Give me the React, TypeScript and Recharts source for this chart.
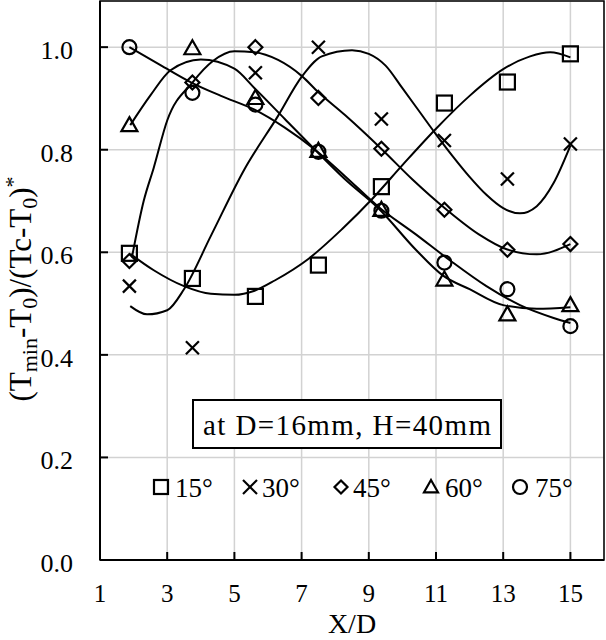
import React from "react";
import { ComposedChart, XAxis, YAxis, CartesianGrid, Scatter, Line, ReferenceArea } from "recharts";

// measured X/D stations
const xd = [1.875, 3.75, 5.625, 7.5, 9.375, 11.25, 13.125, 15];

// measured values per inclination angle
const deg15 = [0.598, 0.549, 0.514, 0.575, 0.728, 0.891, 0.932, 0.987];
const deg30 = [0.534, 0.414, 0.95, 1.0, 0.86, 0.818, 0.743, 0.811];
const deg45 = [0.583, 0.931, 1.0, 0.901, 0.802, 0.683, 0.605, 0.616];
const deg60 = [0.848, 0.998, 0.901, 0.798, 0.683, 0.547, 0.479, 0.497];
const deg75 = [1.0, 0.911, 0.888, 0.796, 0.681, 0.58, 0.528, 0.456];

// trend lines
const fit15X = [1.9, 2.6, 3.5, 4.3, 5.0, 5.6, 6.2, 7.2, 8.2, 9.1, 10.0, 11.0, 12.0, 13.0, 13.8, 14.4, 15.0];
const fit15Y = [0.597, 0.565, 0.534, 0.519, 0.517, 0.525, 0.545, 0.587, 0.645, 0.704, 0.77, 0.841, 0.905, 0.957, 0.982, 0.99, 0.98];
const fit30X = [1.9, 2.4, 3.0, 3.5, 4.3, 5.3, 6.3, 7.0, 7.6, 8.5, 9.0, 9.5, 10.0, 10.5, 11.0, 11.5, 12.0, 12.5, 13.0, 13.5, 14.0, 14.5, 15.0];
const fit30Y = [0.495, 0.479, 0.487, 0.528, 0.632, 0.762, 0.866, 0.942, 0.982, 0.994, 0.987, 0.964, 0.92, 0.875, 0.83, 0.787, 0.747, 0.712, 0.686, 0.676, 0.69, 0.735, 0.808];
const fit45X = [1.95, 2.3, 2.6, 3.0, 3.75, 4.36, 5.0, 5.6, 6.3, 7.0, 7.5, 8.3, 9.4, 10.3, 11.3, 12.3, 13.1, 14.0, 15.0];
const fit45Y = [0.59, 0.7, 0.765, 0.857, 0.931, 0.973, 0.992, 0.99, 0.975, 0.944, 0.912, 0.867, 0.8, 0.742, 0.684, 0.634, 0.606, 0.596, 0.616];
const fit60X = [1.9, 2.5, 3.1, 4.0, 5.0, 5.6, 6.5, 7.4, 8.3, 9.3, 10.4, 11.2, 12.0, 13.0, 14.0, 15.0];
const fit60Y = [0.848, 0.906, 0.955, 0.976, 0.958, 0.92, 0.86, 0.8, 0.742, 0.685, 0.605, 0.555, 0.528, 0.497, 0.49, 0.493];
const fit75X = [1.875, 2.8, 3.75, 4.6, 5.6, 6.5, 7.4, 8.3, 9.3, 10.4, 11.4, 12.5, 13.5, 14.5, 15.0];
const fit75Y = [1.0, 0.965, 0.93, 0.905, 0.878, 0.843, 0.8, 0.748, 0.688, 0.635, 0.585, 0.534, 0.497, 0.472, 0.462];

const xTicks = [1, 3, 5, 7, 9, 11, 13, 15];
const yTicks = [0, 0.2, 0.4, 0.6, 0.8, 1.0];
const legendLabels = ["15°", "30°", "45°", "60°", "75°"];

const FONT = "Liberation Serif, Times New Roman, Times, serif";

const toPts = (xs: number[], ys: number[]) => xs.map((x, i) => ({ x, y: ys[i] }));

const Square = ({ cx, cy, s = 15 }: any) => (
  <rect x={cx - s / 2} y={cy - s / 2} width={s} height={s} fill="none" stroke="#000" strokeWidth={2.2} />
);
const Cross = ({ cx, cy, s = 13 }: any) => (
  <g stroke="#000" strokeWidth={2.2}>
    <line x1={cx - s / 2} y1={cy - s / 2} x2={cx + s / 2} y2={cy + s / 2} />
    <line x1={cx - s / 2} y1={cy + s / 2} x2={cx + s / 2} y2={cy - s / 2} />
  </g>
);
const Diamond = ({ cx, cy, s = 14 }: any) => (
  <polygon
    points={`${cx},${cy - s / 2} ${cx + s / 2},${cy} ${cx},${cy + s / 2} ${cx - s / 2},${cy}`}
    fill="none"
    stroke="#000"
    strokeWidth={2.2}
  />
);
const Triangle = ({ cx, cy, s = 16 }: any) => (
  <polygon
    points={`${cx},${cy - s * 0.5} ${cx + s / 2},${cy + s * 0.38} ${cx - s / 2},${cy + s * 0.38}`}
    fill="none"
    stroke="#000"
    strokeWidth={2.2}
  />
);
const Circle = ({ cx, cy, s = 14 }: any) => (
  <circle cx={cx} cy={cy} r={s / 2} fill="none" stroke="#000" strokeWidth={2.2} />
);

const markers = [Square, Cross, Diamond, Triangle, Circle];

const XTick = ({ x, y, payload }: any) => (
  <g>
    <line x1={x} x2={x} y1={560} y2={552} stroke="#000" strokeWidth={2} />
    <text x={x} y={y} dy="0.71em" textAnchor="middle" fontSize={25} fontFamily={FONT} fill="#000">
      {payload.value}
    </text>
  </g>
);

const YTick = ({ x, y, payload }: any) => (
  <g>
    <line x1={x + 27} x2={x + 35} y1={y} y2={y} stroke="#000" strokeWidth={2} />
    <text x={x} y={y} dy={12} textAnchor="end" fontSize={26} fontFamily={FONT} fill="#000">
      {Number(payload.value).toFixed(1)}
    </text>
  </g>
);

const XLabel = () => (
  <text x={352} y={633} textAnchor="middle" fontSize={28} fontFamily={FONT} fill="#000">
    X/D
  </text>
);

const YLabel = () => (
  <text transform="translate(31,289) rotate(-90)" textAnchor="middle" fontSize={31} fontFamily={FONT} fill="#000">
    (T<tspan dy={6} fontSize={22}>min</tspan>
    <tspan dy={-6}>-T</tspan>
    <tspan dy={6} fontSize={22}>0</tspan>
    <tspan dy={-6}>)/(Tc-T</tspan>
    <tspan dy={6} fontSize={22}>0</tspan>
    <tspan dy={-6}>)</tspan>
    <tspan dy={-11} fontSize={22}>*</tspan>
  </text>
);

const legendMarkX = [161, 250, 341, 431, 520];
const legendTextX = [175, 262, 353, 445, 535];

const Overlay = () => (
  <svg width={606} height={640} style={{ position: "absolute", left: 0, top: 0, pointerEvents: "none" }}>
    <rect x={193} y={400} width={308} height={48} fill="#fff" stroke="#000" strokeWidth={2} />
    <text x={203} y={435} fontSize={29} fontFamily={FONT} fill="#000" textLength={288} lengthAdjust="spacing">
      at D=16mm, H=40mm
    </text>
    {legendLabels.map((lab, i) => {
      const M = markers[i];
      return (
        <g key={lab}>
          <M cx={legendMarkX[i]} cy={487} s={i === 2 ? 13 : 14} />
          <text x={legendTextX[i]} y={497} fontSize={27} fontFamily={FONT} fill="#000">
            {lab}
          </text>
        </g>
      );
    })}
  </svg>
);

const series = [deg15, deg30, deg45, deg60, deg75];
const fits = [
  toPts(fit15X, fit15Y),
  toPts(fit30X, fit30Y),
  toPts(fit45X, fit45Y),
  toPts(fit60X, fit60Y),
  toPts(fit75X, fit75Y),
];

export default function App() {
  return (
    <div style={{ position: "relative", width: 606, height: 640, background: "#fff" }}>
      <style>{`body{margin:0}`}</style>
      <ComposedChart width={606} height={640} margin={{ top: 1, right: 2, bottom: 0, left: 0 }}>
        <CartesianGrid stroke="#d2d2d2" strokeWidth={1.5} />
        <XAxis
          type="number"
          dataKey="x"
          domain={[1, 16]}
          ticks={xTicks}
          allowDataOverflow
          height={80}
          tickLine={false}
          tickSize={0}
          tickMargin={24}
          axisLine={{ stroke: "#000", strokeWidth: 2 }}
          tick={<XTick />}
          label={<XLabel />}
        />
        <YAxis
          type="number"
          domain={[0, 1.09]}
          ticks={yTicks}
          allowDataOverflow
          width={100}
          tickLine={false}
          tickSize={0}
          tickMargin={27}
          axisLine={{ stroke: "#000", strokeWidth: 2 }}
          tick={<YTick />}
          label={<YLabel />}
        />
        <ReferenceArea x1={1} x2={16} y1={0} y2={1.09} fill="none" stroke="#000" strokeWidth={1.5} />
        {fits.map((d, i) => (
          <Line
            key={"fit" + i}
            data={d}
            dataKey="y"
            type="monotone"
            stroke="#000"
            strokeWidth={2}
            dot={false}
            activeDot={false}
            isAnimationActive={false}
          />
        ))}
        {series.map((ys, i) => {
          const M = markers[i];
          return (
            <Scatter
              key={"pts" + i}
              data={toPts(xd, ys)}
              dataKey="y"
              isAnimationActive={false}
              shape={(p: any) => <M cx={p.cx} cy={p.cy} />}
            />
          );
        })}
      </ComposedChart>
      <Overlay />
    </div>
  );
}
